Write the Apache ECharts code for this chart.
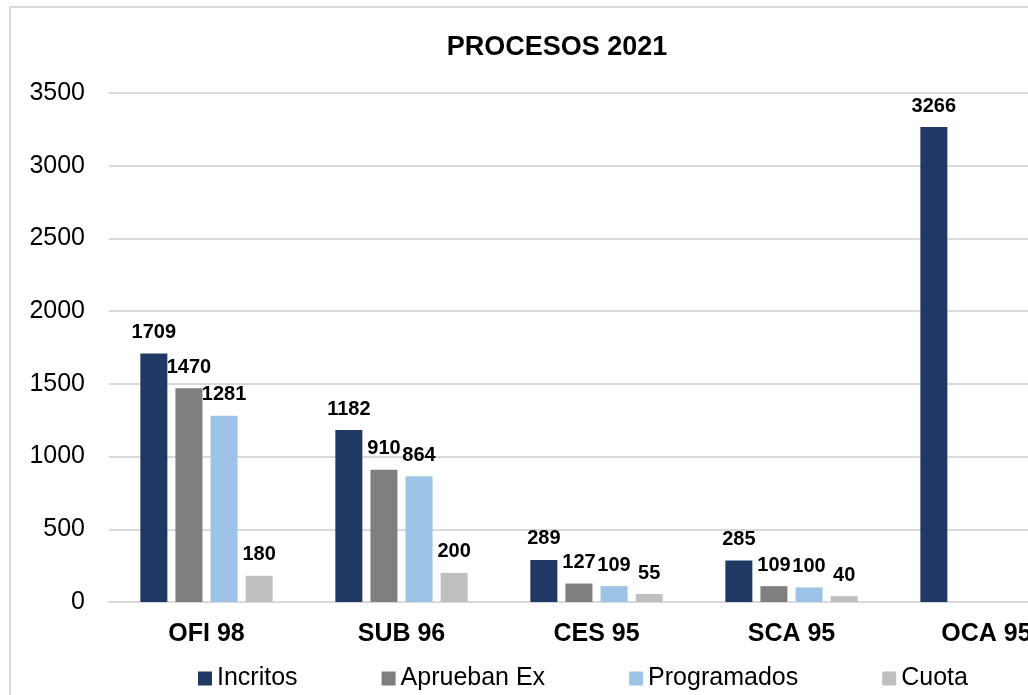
<!DOCTYPE html>
<html>
<head>
<meta charset="utf-8">
<script src="https://cdn.jsdelivr.net/npm/echarts@6/dist/echarts.min.js"></script>
<style>
  html, body { margin: 0; padding: 0; overflow: hidden; background: #fff; }
  #chart { position: absolute; left: 0; top: 0; width: 1114px; height: 695px; }
  .frame { position: absolute; left: 9px; top: 6px; width: 2000px; height: 2000px;
    border-left: 2px solid #d9d9d9; border-top: 2px solid #d9d9d9; pointer-events: none; }
</style>
</head>
<body>
<div id="chart"></div>
<div class="frame"></div>
<script>
const categories = ['OFI 98', 'SUB 96', 'CES 95', 'SCA 95', 'OCA 95']
const incritos = [1709, 1182, 289, 285, 3266]
const apruebanEx = [1470, 910, 127, 109, null]
const programados = [1281, 864, 109, 100, null]
const cuota = [180, 200, 55, 40, null]

const chart = echarts.init(document.getElementById('chart'))

const labelStyle = {
  show: true,
  position: 'top',
  distance: 11,
  color: '#000',
  fontWeight: 'bold',
  fontFamily: 'Liberation Sans, Arial',
  fontSize: 20
}

function bar(name, data, color) {
  return {
    name: name,
    type: 'bar',
    data: data,
    barWidth: 27,
    barGap: '30%',
    itemStyle: { color: color },
    label: labelStyle
  }
}

chart.setOption({
  animation: false,
  textStyle: { fontFamily: 'Liberation Sans, Arial' },
  title: {
    text: 'PROCESOS 2021',
    left: 'center',
    top: 29,
    textStyle: {
      color: '#000',
      fontWeight: 'bold',
      fontSize: 27,
      fontFamily: 'Liberation Sans, Arial'
    }
  },
  legend: {
    left: 193,
    top: 661,
    itemWidth: 14,
    itemHeight: 14,
    itemGap: 84,
    icon: 'rect',
    textStyle: {
      color: '#000',
      fontSize: 25,
      fontFamily: 'Liberation Sans, Arial'
    }
  },
  grid: {
    left: 109,
    right: 30,
    top: 93,
    bottom: 93,
    containLabel: false
  },
  xAxis: {
    type: 'category',
    data: categories,
    axisTick: { show: false },
    axisLine: { lineStyle: { color: '#d9d9d9', width: 2 } },
    axisLabel: {
      color: '#000',
      fontWeight: 'bold',
      fontSize: 25,
      margin: 20,
      interval: 0
    }
  },
  yAxis: {
    type: 'value',
    min: 0,
    max: 3500,
    interval: 500,
    axisLine: { show: false },
    axisTick: { show: false },
    splitLine: { lineStyle: { color: '#d9d9d9', width: 2 } },
    axisLabel: {
      color: '#000',
      fontSize: 25,
      margin: 24,
      formatter: v => String(v)
    }
  },
  series: [
    bar('Incritos', incritos, '#203864'),
    bar('Aprueban Ex', apruebanEx, '#7f7f7f'),
    bar('Programados', programados, '#9dc3e6'),
    bar('Cuota', cuota, '#bfbfbf')
  ]
})
</script>
</body>
</html>
